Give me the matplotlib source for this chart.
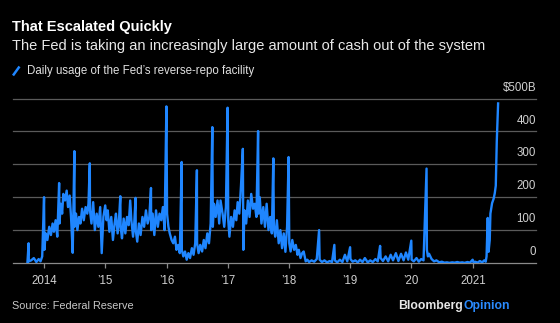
import matplotlib
matplotlib.use("Agg")
import matplotlib.pyplot as plt
from matplotlib.lines import Line2D
from matplotlib.transforms import blended_transform_factory
import pandas as pd

plt.rcParams['font.family'] = ['Liberation Sans', 'DejaVu Sans']

# daily usage of the Fed's reverse-repo facility, $B
dates = [
    # 2013
    "2013-09-23", "2013-09-30", "2013-10-01", "2013-10-15", "2013-10-31", "2013-11-15",
    "2013-11-29", "2013-12-10", "2013-12-20", "2013-12-31",
    # 2014
    "2014-01-02", "2014-01-10", "2014-01-20", "2014-01-31", "2014-02-10", "2014-02-20",
    "2014-02-28", "2014-03-10", "2014-03-20", "2014-03-31", "2014-04-02", "2014-04-10",
    "2014-04-18", "2014-04-25", "2014-05-05", "2014-05-15", "2014-05-23", "2014-06-02",
    "2014-06-10", "2014-06-20", "2014-06-30", "2014-07-01", "2014-07-10", "2014-07-18",
    "2014-07-28", "2014-08-05", "2014-08-15", "2014-08-25", "2014-09-05", "2014-09-15",
    "2014-09-22", "2014-09-30", "2014-10-01", "2014-10-10", "2014-10-20", "2014-10-30",
    "2014-11-10", "2014-11-20", "2014-12-01", "2014-12-10", "2014-12-20", "2014-12-31",
    # 2015
    "2015-01-08", "2015-01-15", "2015-01-25", "2015-02-05", "2015-02-15", "2015-02-25",
    "2015-03-05", "2015-03-15", "2015-03-23", "2015-03-31", "2015-04-02", "2015-04-10",
    "2015-04-20", "2015-04-30", "2015-05-10", "2015-05-20", "2015-05-29", "2015-06-05",
    "2015-06-15", "2015-06-22", "2015-06-30", "2015-07-01", "2015-07-10", "2015-07-20",
    "2015-07-30", "2015-08-10", "2015-08-20", "2015-08-31", "2015-09-10", "2015-09-20",
    "2015-09-30", "2015-10-01", "2015-10-10", "2015-10-20", "2015-10-30", "2015-11-10",
    "2015-11-20", "2015-11-30", "2015-12-10", "2015-12-20", "2015-12-31",
    # 2016
    "2016-01-04", "2016-01-12", "2016-01-20", "2016-01-31", "2016-02-10", "2016-02-20",
    "2016-02-29", "2016-03-10", "2016-03-20", "2016-03-31", "2016-04-01", "2016-04-10",
    "2016-04-20", "2016-04-30", "2016-05-10", "2016-05-20", "2016-05-31", "2016-06-10",
    "2016-06-20", "2016-06-30", "2016-07-01", "2016-07-10", "2016-07-20", "2016-07-31",
    "2016-08-10", "2016-08-20", "2016-08-31", "2016-09-10", "2016-09-20", "2016-09-30",
    "2016-10-03", "2016-10-10", "2016-10-20", "2016-10-31", "2016-11-10", "2016-11-18",
    "2016-11-30", "2016-12-10", "2016-12-20", "2016-12-30",
    # 2017
    "2017-01-03", "2017-01-10", "2017-01-20", "2017-01-31", "2017-02-10", "2017-02-20",
    "2017-02-28", "2017-03-10", "2017-03-20", "2017-03-31", "2017-04-03", "2017-04-10",
    "2017-04-20", "2017-04-30", "2017-05-10", "2017-05-20", "2017-05-31", "2017-06-10",
    "2017-06-20", "2017-06-30", "2017-07-03", "2017-07-10", "2017-07-20", "2017-07-31",
    "2017-08-10", "2017-08-20", "2017-08-31", "2017-09-10", "2017-09-20", "2017-09-29",
    "2017-10-02", "2017-10-10", "2017-10-20", "2017-10-31", "2017-11-10", "2017-11-20",
    "2017-11-30", "2017-12-10", "2017-12-20", "2017-12-29",
    # 2018
    "2018-01-02", "2018-01-10", "2018-01-20", "2018-01-31", "2018-02-10", "2018-02-20",
    "2018-02-28", "2018-03-10", "2018-03-20", "2018-03-29", "2018-04-10", "2018-04-20",
    "2018-04-30", "2018-05-15", "2018-05-31", "2018-06-15", "2018-06-29", "2018-07-02",
    "2018-07-16", "2018-07-31", "2018-08-15", "2018-08-31", "2018-09-14", "2018-09-28",
    "2018-10-01", "2018-10-15", "2018-10-31", "2018-11-15", "2018-11-30", "2018-12-14",
    "2018-12-31",
    # 2019
    "2019-01-02", "2019-01-15", "2019-01-31", "2019-02-15", "2019-02-28", "2019-03-15",
    "2019-03-29", "2019-04-15", "2019-04-30", "2019-05-15", "2019-05-31", "2019-06-14",
    "2019-06-28", "2019-07-01", "2019-07-15", "2019-07-31", "2019-08-15", "2019-08-30",
    "2019-09-13", "2019-09-30", "2019-10-15", "2019-10-31", "2019-11-15", "2019-11-29",
    "2019-12-13", "2019-12-31",
    # 2020
    "2020-01-02", "2020-01-15", "2020-01-31", "2020-02-14", "2020-02-28", "2020-03-13",
    "2020-03-31", "2020-04-02", "2020-04-08", "2020-04-15", "2020-04-30", "2020-05-15",
    "2020-05-29", "2020-06-15", "2020-06-30", "2020-07-15", "2020-07-31", "2020-08-14",
    "2020-08-31", "2020-09-15", "2020-09-30", "2020-10-15", "2020-10-30", "2020-11-13",
    "2020-11-30", "2020-12-15", "2020-12-31",
    # 2021
    "2021-01-05", "2021-01-15", "2021-01-29", "2021-02-12", "2021-02-26", "2021-03-10",
    "2021-03-19", "2021-03-24", "2021-03-31", "2021-04-05", "2021-04-12", "2021-04-16",
    "2021-04-26", "2021-05-05", "2021-05-12", "2021-05-18", "2021-05-24", "2021-06-01",
]
usage = [
    # 2013
    2, 60, 5, 8, 15, 3, 12, 5, 20, 200,
    # 2014
    40, 90, 70, 110, 85, 120, 95, 130, 80, 243, 120, 180,
    150, 210, 190, 220, 170, 205, 140, 31, 340, 110, 150, 100,
    140, 120, 165, 130, 170, 150, 180, 303, 160, 120, 185, 100,
    150, 110, 170, 30, 140, 175,
    # 2015
    130, 160, 95, 140, 70, 120, 150, 90, 130, 203, 110, 75,
    135, 90, 140, 115, 190, 130, 80, 120, 198, 100, 65, 120,
    85, 140, 110, 160, 120, 140, 228, 100, 150, 85, 160, 110,
    150, 130, 170, 100, 476,
    # 2016
    150, 110, 90, 70, 60, 80, 40, 55, 30, 307, 40, 20,
    35, 10, 30, 15, 45, 25, 60, 282, 60, 30, 55, 35,
    70, 45, 90, 60, 120, 413, 110, 180, 140, 190, 120, 190,
    150, 110, 170, 472,
    # 2017
    130, 80, 140, 110, 160, 130, 185, 150, 235, 347, 40, 160,
    120, 190, 140, 210, 165, 180, 140, 401, 150, 200, 120, 170,
    110, 180, 100, 140, 90, 318, 110, 80, 130, 60, 100, 45,
    90, 34, 110, 322,
    # 2018
    60, 35, 70, 40, 55, 25, 40, 15, 30, 35, 5, 10,
    3, 8, 4, 12, 100, 10, 3, 8, 2, 6, 3, 55,
    8, 2, 10, 3, 25, 5, 48,
    # 2019
    12, 4, 8, 2, 10, 3, 15, 2, 8, 3, 12, 5,
    52, 15, 6, 20, 5, 25, 8, 30, 6, 28, 8, 32,
    10, 68,
    # 2020
    10, 5, 15, 4, 12, 8, 287, 40, 20, 28, 12, 5,
    8, 2, 4, 1, 2, 0.5, 2, 1, 3, 1, 2, 0.5,
    3, 1, 10,
    # 2021
    2, 4, 1, 6, 2, 8, 4, 20, 137, 34, 70, 150,
    182, 195, 212, 235, 370, 485,
]
y_ticks = [0, 100, 200, 300, 400, 500]
y_labels = ["0", "100", "200", "300", "400", "$500B"]
x_years = [2014, 2015, 2016, 2017, 2018, 2019, 2020, 2021]
x_labels = ["2014", "\u201915", "\u201916", "\u201917", "\u201918", "\u201919", "\u201920", "2021"]

blue = "#1f86ff"
bg = "black"

fig = plt.figure(figsize=(5.6, 3.23), dpi=100, facecolor=bg)
W, H = 560.0, 323.0
ax = fig.add_axes([12.7 / W, (H - 263) / H, (536 - 12.7) / W, (263 - 98.5) / H])
ax.set_facecolor(bg)

x = pd.to_datetime(dates)
ax.plot(x, usage, color=blue, lw=1.7, zorder=3)

ax.set_ylim(0, 500)
ax.set_xlim(pd.Timestamp("2013-06-27"), pd.Timestamp("2022-01-13"))

# gridlines + labels sitting on top of the lines at right
for v in y_ticks:
    ax.axhline(v, color="#5a5a5a" if v else "#8a8a8a", lw=0.9, zorder=1, clip_on=False)
tr = blended_transform_factory(ax.transAxes, ax.transData)
for v, lab in zip(y_ticks, y_labels):
    ax.annotate(lab, xy=(1, v), xycoords=tr, xytext=(0, 3.5), textcoords="offset points",
                ha="right", va="bottom", color="#d0d0d0", fontsize=8.3)

for s in ax.spines.values():
    s.set_visible(False)
ax.set_yticks([])
ax.set_xticks([pd.Timestamp(f"{y}-01-01") for y in x_years])
ax.set_xticklabels(x_labels)
ax.tick_params(axis="x", colors="#8a8a8a", length=3.5, width=0.9, pad=5,
               labelcolor="#d0d0d0", labelsize=8.3)

# header
fig.text(12 / W, 1 - 27 / H, "That Escalated Quickly", color="white", fontsize=10.5,
         fontweight="bold", va="center", ha="left")
fig.text(12 / W, 1 - 46 / H, "The Fed is taking an increasingly large amount of cash out of the system",
         color="#e8e8e8", fontsize=10.5, va="center", ha="left")
fig.add_artist(Line2D([13 / W, 19.5 / W], [1 - 75.5 / H, 1 - 66.5 / H], color=blue, lw=1.8,
                      solid_capstyle="butt"))
fig.text(27 / W, 1 - 71 / H, "Daily usage of the Fed\u2019s reverse-repo facility",
         color="#e0e0e0", fontsize=8.3, va="center", ha="left")

# footer
fig.text(12 / W, 1 - 306 / H, "Source: Federal Reserve", color="#c8c8c8", fontsize=7.8,
         va="center", ha="left")
fig.text(463 / W, 1 - 306 / H, "Bloomberg", color="#e6e6e6", fontsize=8.8, fontweight="bold",
         va="center", ha="right")
fig.text(463 / W, 1 - 306 / H, "Opinion", color="#2a8bff", fontsize=8.8, fontweight="bold",
         va="center", ha="left")

fig.savefig("out.png", dpi=100, facecolor=bg)
